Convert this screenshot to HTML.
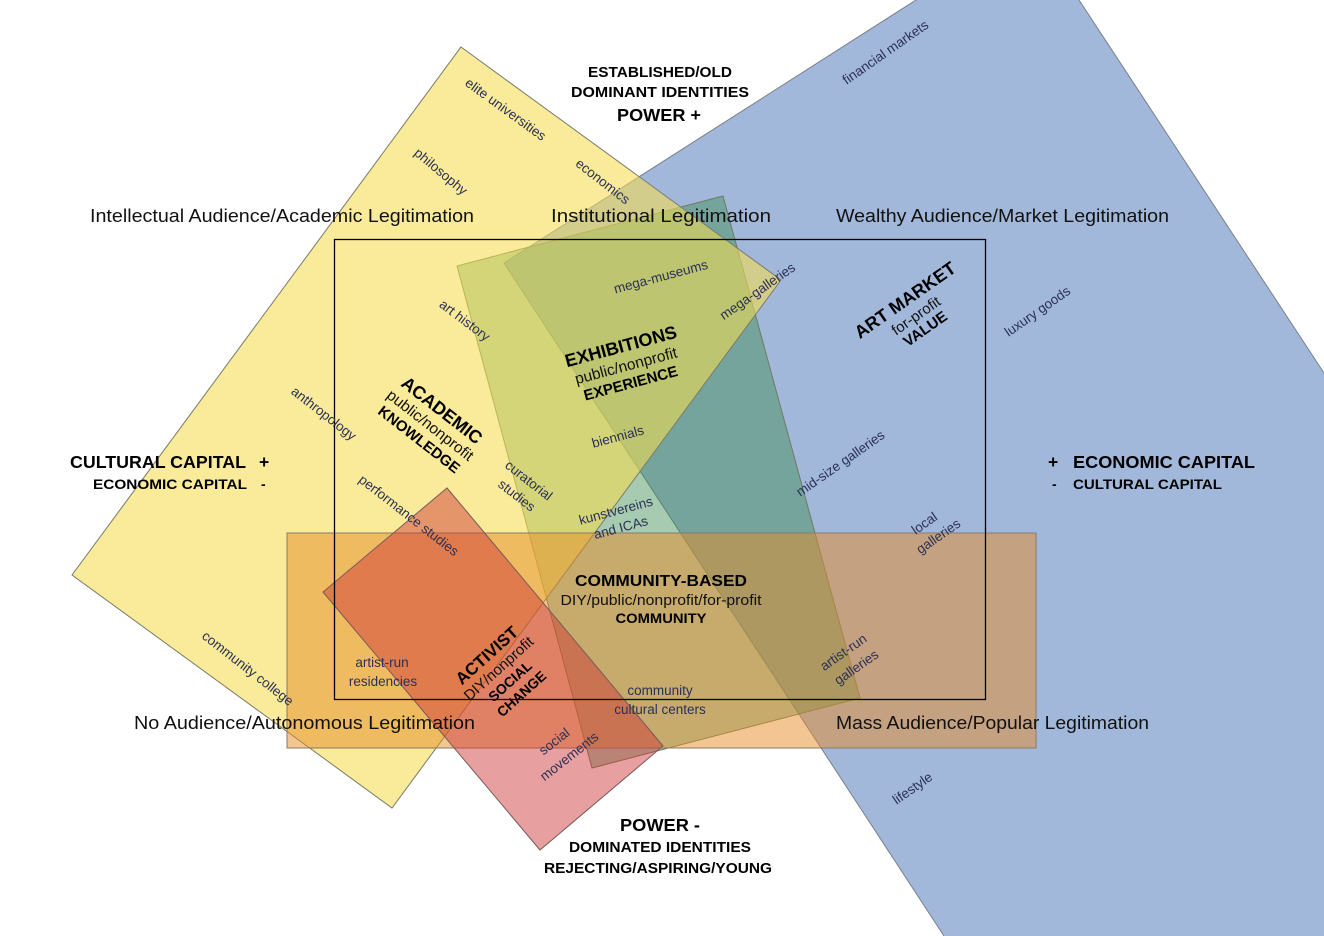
<!DOCTYPE html>
<html><head><meta charset="utf-8"><style>
html,body{margin:0;padding:0;background:#fff;width:1324px;height:936px;overflow:hidden;}
svg{display:block;overflow:hidden;}
text{font-family:"Liberation Sans",sans-serif;}
.l{font-size:13.5px;fill:#2b3055;}
.b{font-weight:bold;fill:#000;}
.h{font-size:18.5px;fill:#111;}
</style></head><body>
<svg width="1324" height="936" viewBox="0 0 1324 936" xmlns="http://www.w3.org/2000/svg">
<!-- blue -->
<polygon points="916,0 1079,0 1324,373 1324,936 944,936 504,263" fill="#a2b8db"/>
<polyline points="1079,0 1324,373" fill="none" stroke="#7a7f88" stroke-width="1"/>
<polyline points="916,0 504,263 944,936" fill="none" stroke="#7a7f88" stroke-width="1"/>
<!-- green quad -->
<polygon points="457,266 723,196 860,698 592,768" fill="rgba(60,140,80,0.45)" stroke="#6f7a60" stroke-width="1"/>
<!-- yellow -->
<polygon points="461,47 781,280 392,808 72,575" fill="rgba(245,220,81,0.58)" stroke="#7a7a6a" stroke-width="1"/>
<!-- orange -->
<rect x="287" y="533" width="749" height="215" fill="rgba(230,140,40,0.5)" stroke="#8a7a6a" stroke-width="1"/>
<!-- red -->
<polygon points="447,488 663,746 540,850 323,592" fill="rgba(205,55,55,0.48)" stroke="#7a5a5a" stroke-width="1"/>
<!-- frame -->
<rect x="334.5" y="239.5" width="651" height="460" fill="none" stroke="#000" stroke-width="1.3"/>

<g text-anchor="middle">
<text x="660" y="77" class="b" font-size="14.5" textLength="144" lengthAdjust="spacingAndGlyphs">ESTABLISHED/OLD</text>
<text x="660" y="97" class="b" font-size="14.5" textLength="178" lengthAdjust="spacingAndGlyphs">DOMINANT IDENTITIES</text>
<text x="659" y="121" class="b" font-size="17.5" textLength="84" lengthAdjust="spacingAndGlyphs">POWER +</text>
<text x="660" y="831" class="b" font-size="17.5" textLength="80" lengthAdjust="spacingAndGlyphs">POWER -</text>
<text x="660" y="852" class="b" font-size="14.5" textLength="182" lengthAdjust="spacingAndGlyphs">DOMINATED IDENTITIES</text>
<text x="658" y="873" class="b" font-size="14.5" textLength="228" lengthAdjust="spacingAndGlyphs">REJECTING/ASPIRING/YOUNG</text>
<text x="661" y="586" class="b" font-size="16" textLength="172" lengthAdjust="spacingAndGlyphs">COMMUNITY-BASED</text>
<text x="661" y="605" font-size="14.5" fill="#111" textLength="201" lengthAdjust="spacingAndGlyphs">DIY/public/nonprofit/for-profit</text>
<text x="661" y="623" class="b" font-size="14" textLength="91" lengthAdjust="spacingAndGlyphs">COMMUNITY</text>
</g>

<text x="90" y="222" class="h" textLength="384" lengthAdjust="spacingAndGlyphs">Intellectual Audience/Academic Legitimation</text>
<text x="551" y="222" class="h" textLength="220" lengthAdjust="spacingAndGlyphs">Institutional  Legitimation</text>
<text x="836" y="222" class="h" textLength="333" lengthAdjust="spacingAndGlyphs">Wealthy Audience/Market Legitimation</text>
<text x="134" y="729" class="h" textLength="341" lengthAdjust="spacingAndGlyphs">No Audience/Autonomous Legitimation</text>
<text x="836" y="729" class="h" textLength="313" lengthAdjust="spacingAndGlyphs">Mass Audience/Popular Legitimation</text>

<text x="70" y="468" class="b" font-size="17.5" textLength="176" lengthAdjust="spacingAndGlyphs">CULTURAL CAPITAL</text>
<text x="259" y="468" class="b" font-size="17.5">+</text>
<text x="93" y="489" class="b" font-size="14" textLength="154" lengthAdjust="spacingAndGlyphs">ECONOMIC CAPITAL</text>
<text x="261" y="489" class="b" font-size="14">-</text>
<text x="1048" y="468" class="b" font-size="17.5">+</text>
<text x="1073" y="468" class="b" font-size="17.5" textLength="182" lengthAdjust="spacingAndGlyphs">ECONOMIC CAPITAL</text>
<text x="1052" y="489" class="b" font-size="14">-</text>
<text x="1073" y="489" class="b" font-size="14" textLength="149" lengthAdjust="spacingAndGlyphs">CULTURAL CAPITAL</text>

<g text-anchor="middle" class="l">
<text class="l" transform="translate(503,113) rotate(36)">elite universities</text>
<text class="l" transform="translate(438,175) rotate(40)">philosophy</text>
<text class="l" transform="translate(600,185) rotate(38)">economics</text>
<text class="l" transform="translate(888,56) rotate(-35)">financial markets</text>
<text class="l" transform="translate(662,281) rotate(-15)">mega-museums</text>
<text class="l" transform="translate(760,295) rotate(-35)">mega-galleries</text>
<text class="l" transform="translate(462,324) rotate(37)">art history</text>
<text class="l" transform="translate(1040,315) rotate(-35)">luxury goods</text>
<text class="l" transform="translate(321,417) rotate(38)">anthropology</text>
<text class="l" transform="translate(619,441) rotate(-15)">biennials</text>
<text class="l" transform="translate(526,484) rotate(38)">curatorial</text>
<text class="l" transform="translate(514,499) rotate(38)">studies</text>
<text class="l" transform="translate(843,467) rotate(-35)">mid-size galleries</text>
<text class="l" transform="translate(617,515) rotate(-15)">kunstvereins</text>
<text class="l" transform="translate(622,532) rotate(-15)">and ICAs</text>
<text class="l" transform="translate(406,519) rotate(38)">performance studies</text>
<text class="l" transform="translate(927,527) rotate(-35)">local</text>
<text class="l" transform="translate(941,540) rotate(-35)">galleries</text>
<text class="l" x="382" y="667">artist-run</text>
<text class="l" x="383" y="686">residencies</text>
<text class="l" transform="translate(245,672) rotate(38)">community college</text>
<text class="l" transform="translate(846,656) rotate(-35)">artist-run</text>
<text class="l" transform="translate(859,671) rotate(-35)">galleries</text>
<text class="l" x="660" y="695">community</text>
<text class="l" x="660" y="714">cultural centers</text>
<text class="l" transform="translate(557,745) rotate(-38)">social</text>
<text class="l" transform="translate(572,760) rotate(-38)">movements</text>
<text class="l" transform="translate(915,792) rotate(-35)">lifestyle</text>
</g>

<g text-anchor="middle">
<g transform="translate(912,310) rotate(-35)">
<text y="-6" class="b" font-size="18">ART MARKET</text>
<text y="12" font-size="15" fill="#111">for-profit</text>
<text y="28" class="b" font-size="15">VALUE</text>
</g>
<g transform="translate(625,362) rotate(-15)">
<text y="-10" class="b" font-size="18">EXHIBITIONS</text>
<text y="9" font-size="15.5" fill="#111">public/nonprofit</text>
<text y="27" class="b" font-size="15">EXPERIENCE</text>
</g>
<g transform="translate(432,423) rotate(38)">
<text y="-10" class="b" font-size="18">ACADEMIC</text>
<text y="8" font-size="15.5" fill="#111">public/nonprofit</text>
<text y="26" class="b" font-size="15">KNOWLEDGE</text>
</g>
<g transform="translate(500,670) rotate(-42)">
<text y="-14" class="b" font-size="17">ACTIVIST</text>
<text y="3" font-size="15" fill="#111">DIY/nonprofit</text>
<text y="20" class="b" font-size="14">SOCIAL</text>
<text y="37" class="b" font-size="14">CHANGE</text>
</g>
</g>
</svg>
</body></html>
